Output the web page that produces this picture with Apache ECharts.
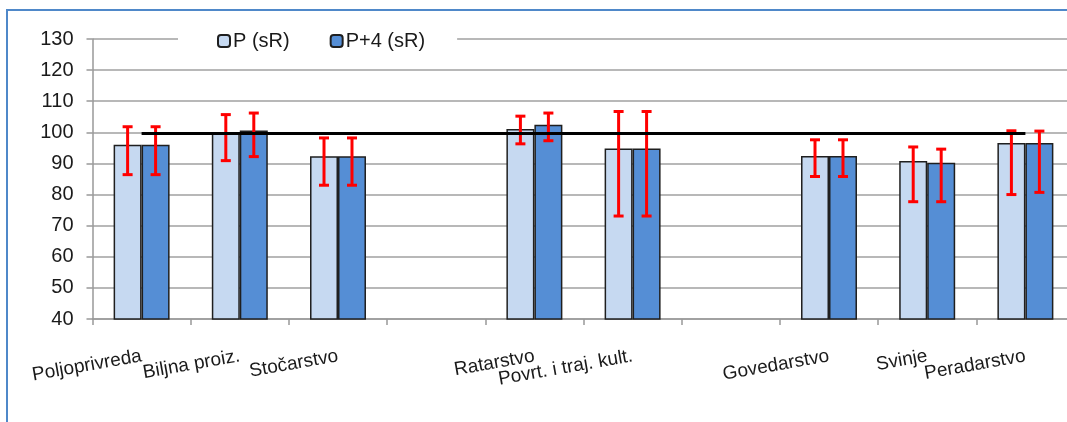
<!DOCTYPE html>
<html>
<head>
<meta charset="utf-8">
<script src="https://cdn.jsdelivr.net/npm/echarts@6/dist/echarts.min.js"></script>
<style>
html,body{margin:0;padding:0;background:#fff;}
#chart{width:1067px;height:422px;}
</style>
</head>
<body>
<div id="chart"></div>
<script>
const categories = ['Poljoprivreda', 'Biljna proiz.', 'Stočarstvo', '', 'Ratarstvo', 'Povrt. i traj. kult.', '', 'Govedarstvo', 'Svinje', 'Peradarstvo'];
const seriesNames = ['P (sR)', 'P+4 (sR)'];
const valuesP = [96.0, 99.6, 92.3, null, 101.1, 94.8, null, 92.4, 90.8, 96.6];
const valuesP4 = [96.0, 100.6, 92.3, null, 102.4, 94.8, null, 92.4, 90.2, 96.6];
const errLowP = [86.4, 90.9, 83.0, null, 96.3, 73.1, null, 85.8, 77.7, 80.0];
const errHighP = [101.8, 105.7, 98.2, null, 105.2, 106.7, null, 97.6, 95.3, 100.5];
const errLowP4 = [86.4, 92.2, 83.0, null, 97.3, 73.1, null, 85.8, 77.7, 80.7];
const errHighP4 = [101.8, 106.2, 98.2, null, 106.2, 106.7, null, 97.6, 94.6, 100.4];
const refValue = 99.6;
const yMin = 40, yMax = 130, yStep = 10;

const catGap = 0.43;
const barFrac = (1 - catGap) / 2;

function errData(lo, hi) {
  const out = [];
  lo.forEach((v, i) => { if (v != null && hi[i] != null) out.push([i, v, hi[i]]); });
  return out;
}
function errRenderer(sign) {
  return function (params, api) {
    const i = api.value(0);
    const band = api.size([1, 0])[0];
    const pLo = api.coord([i, api.value(1)]);
    const pHi = api.coord([i, api.value(2)]);
    const cx = pLo[0] + sign * band * barFrac / 2;
    const cap = 5;
    const st = { stroke: '#ff0000', lineWidth: 3 };
    return {
      type: 'group',
      children: [
        { type: 'line', shape: { x1: cx, y1: pLo[1], x2: cx, y2: pHi[1] }, style: st },
        { type: 'line', shape: { x1: cx - cap, y1: pLo[1], x2: cx + cap, y2: pLo[1] }, style: st },
        { type: 'line', shape: { x1: cx - cap, y1: pHi[1], x2: cx + cap, y2: pHi[1] }, style: st }
      ]
    };
  };
}

const chart = echarts.init(document.getElementById('chart'), null, { renderer: 'canvas' });
const font = '"Liberation Sans", Arial, sans-serif';
chart.setOption({
  animation: false,
  backgroundColor: '#ffffff',
  textStyle: { fontFamily: font },
  graphic: [
    { type: 'polyline', shape: { points: [[7, 430], [7, 10], [1080, 10]] }, style: { stroke: '#4f88c9', lineWidth: 2, fill: null }, z: 100 }
  ],
  legend: {
    data: seriesNames,
    top: 28,
    left: 178,
    backgroundColor: '#ffffff',
    padding: [3, 32, 3, 39],
    itemWidth: 12,
    itemHeight: 12,
    itemGap: 40,
    textStyle: { fontSize: 20, color: '#1a1a1a', fontFamily: font, padding: [0, 0, 0, -2] }
  },
  grid: { left: 92.5, top: 39, width: 982, height: 280, containLabel: false, outerBoundsMode: 'none' },
  xAxis: {
    type: 'category',
    data: categories,
    boundaryGap: true,
    axisLine: { lineStyle: { color: '#999999', width: 1.5 } },
    axisTick: { show: true, length: 6, lineStyle: { color: '#999999', width: 1.5 }, alignWithLabel: false },
    axisLabel: { rotate: 10, margin: 37, fontSize: 19, color: '#1a1a1a', interval: 0, fontFamily: font },
    splitLine: { show: false }
  },
  yAxis: {
    type: 'value',
    min: yMin, max: yMax, interval: yStep,
    axisLine: { show: true, lineStyle: { color: '#999999', width: 1.5 } },
    axisTick: { show: true, length: 6, lineStyle: { color: '#999999', width: 1.5 } },
    axisLabel: { fontSize: 20, color: '#1a1a1a', margin: 19, fontFamily: font },
    splitLine: { show: true, lineStyle: { color: '#a0a0a0', width: 1.5 } }
  },
  series: [
    {
      name: seriesNames[0], type: 'bar', data: valuesP,
      barGap: '0%', barCategoryGap: (catGap * 100) + '%',
      itemStyle: { color: '#c6d9f1', borderColor: '#1f1f1f', borderWidth: 1.5 },
      z: 2
    },
    {
      name: seriesNames[1], type: 'bar', data: valuesP4,
      barGap: '0%', barCategoryGap: (catGap * 100) + '%',
      itemStyle: { color: '#558ed5', borderColor: '#1f1f1f', borderWidth: 1.5 },
      z: 2
    },
    {
      name: 'errP', type: 'custom', data: errData(errLowP, errHighP),
      renderItem: errRenderer(-1), encode: { x: 0, y: [1, 2] }, z: 5, silent: true
    },
    {
      name: 'errP4', type: 'custom', data: errData(errLowP4, errHighP4),
      renderItem: errRenderer(1), encode: { x: 0, y: [1, 2] }, z: 5, silent: true
    },
    {
      name: 'ref', type: 'line', data: categories.map(() => refValue),
      showSymbol: false, symbol: 'none',
      lineStyle: { color: '#000000', width: 3 },
      z: 6, silent: true
    }
  ]
});
</script>
</body>
</html>
